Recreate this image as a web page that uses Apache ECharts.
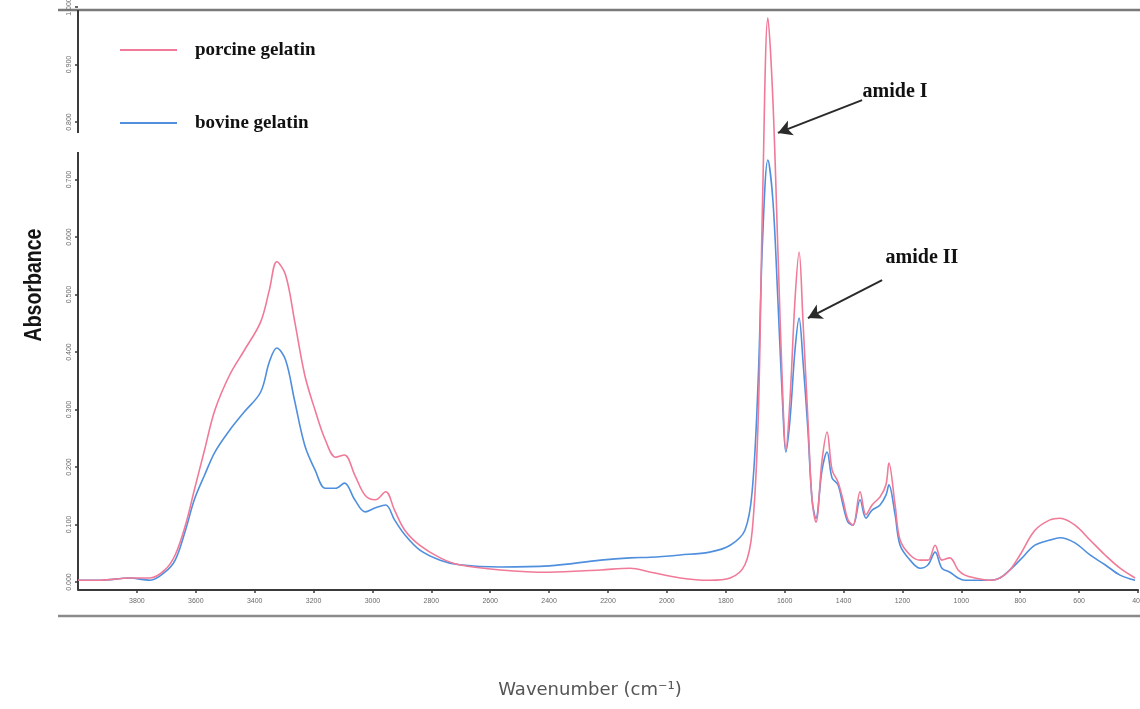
<!DOCTYPE html>
<html>
<head>
<meta charset="utf-8">
<script src="https://cdn.jsdelivr.net/npm/echarts@6/dist/echarts.min.js"></script>
<style>
  html, body { margin: 0; padding: 0; background: #ffffff; overflow: hidden; }
  #chart { width: 1140px; height: 709px; }
</style>
</head>
<body>
<div id="chart"></div>
<script>
// FTIR spectra of gelatin samples: wavenumber (cm-1) vs absorbance
const wavenumber = [4000, 3925, 3825, 3755, 3705, 3670, 3635, 3605, 3570, 3535, 3485, 3435, 3380, 3350, 3325, 3295, 3265, 3230, 3195, 3160, 3125, 3095, 3060, 3025, 2990, 2955, 2925, 2890, 2840, 2770, 2705, 2565, 2400, 2225, 2125, 2055, 1955, 1855, 1785, 1735, 1710, 1690, 1675, 1657, 1640, 1623, 1606, 1596, 1582, 1565, 1551, 1538, 1521, 1507, 1494, 1473, 1456, 1439, 1419, 1402, 1385, 1368, 1344, 1324, 1303, 1276, 1256, 1246, 1225, 1208, 1174, 1140, 1113, 1089, 1066, 1039, 1011, 988, 954, 903, 869, 835, 801, 750, 699, 665, 614, 563, 512, 461, 410];

const porcine = [0.003, 0.003, 0.007, 0.007, 0.021, 0.047, 0.099, 0.160, 0.230, 0.299, 0.360, 0.403, 0.452, 0.508, 0.557, 0.534, 0.456, 0.360, 0.299, 0.247, 0.217, 0.221, 0.186, 0.151, 0.143, 0.157, 0.125, 0.090, 0.064, 0.042, 0.030, 0.021, 0.017, 0.021, 0.024, 0.017, 0.007, 0.003, 0.007, 0.030, 0.090, 0.282, 0.664, 0.981, 0.838, 0.577, 0.317, 0.230, 0.317, 0.490, 0.574, 0.456, 0.282, 0.143, 0.104, 0.212, 0.261, 0.195, 0.174, 0.143, 0.108, 0.099, 0.157, 0.117, 0.134, 0.148, 0.169, 0.207, 0.134, 0.073, 0.047, 0.038, 0.038, 0.064, 0.038, 0.042, 0.021, 0.012, 0.007, 0.003, 0.007, 0.021, 0.047, 0.090, 0.108, 0.111, 0.099, 0.073, 0.047, 0.024, 0.007];

const bovine = [0.003, 0.003, 0.007, 0.003, 0.017, 0.038, 0.090, 0.143, 0.186, 0.226, 0.264, 0.296, 0.330, 0.383, 0.407, 0.386, 0.317, 0.238, 0.195, 0.163, 0.163, 0.172, 0.143, 0.122, 0.129, 0.134, 0.108, 0.082, 0.056, 0.038, 0.030, 0.026, 0.028, 0.038, 0.042, 0.043, 0.047, 0.052, 0.064, 0.090, 0.160, 0.351, 0.595, 0.734, 0.664, 0.490, 0.299, 0.226, 0.282, 0.403, 0.459, 0.386, 0.264, 0.143, 0.111, 0.195, 0.226, 0.181, 0.169, 0.134, 0.104, 0.099, 0.143, 0.111, 0.125, 0.134, 0.151, 0.169, 0.117, 0.064, 0.038, 0.024, 0.030, 0.052, 0.024, 0.017, 0.007, 0.003, 0.003, 0.003, 0.007, 0.021, 0.038, 0.064, 0.073, 0.077, 0.068, 0.047, 0.030, 0.012, 0.003];

const seriesNames = ['porcine gelatin', 'bovine gelatin'];
const seriesColors = ['#f07a98', '#4f8fde'];

// band labels: text anchor and arrow (from -> to) in wavenumber / absorbance units
const bandNames = ['amide I', 'amide II'];
const bandLabelAt = [[1337, 0.852], [1259, 0.563]];
const bandArrowFrom = [[1337, 0.838], [1269, 0.525]];
const bandArrowTo = [[1623, 0.781], [1521, 0.459]];

// the y axis line is drawn in two pieces with a small break
const yBreak = [0.748, 0.781];

const toPairs = (ys) => wavenumber.map((w, i) => [w, ys[i]]);

const chart = echarts.init(document.getElementById('chart'), null, { renderer: 'canvas', width: 1140, height: 709 });

const tickLabelStyle = { color: '#6a6a6a', fontSize: 7, fontFamily: 'Liberation Sans, Arial, sans-serif' };

const option = {
  backgroundColor: '#ffffff',
  animation: false,
  grid: { left: 78, right: 2, top: 7, bottom: 127, containLabel: false, outerBoundsMode: 'none' },
  legend: {
    orient: 'vertical',
    left: 115,
    top: 34,
    icon: 'rect',
    itemWidth: 57,
    itemHeight: 2,
    itemGap: 51,
    data: seriesNames,
    textStyle: {
      fontFamily: 'Liberation Serif, Times New Roman, serif',
      fontWeight: 'bold',
      fontSize: 19,
      color: '#111111',
      lineHeight: 22,
      padding: [0, 0, 0, 13]
    }
  },
  xAxis: {
    type: 'value',
    inverse: true,
    min: 400,
    max: 4000,
    interval: 200,
    offset: 8,
    axisLine: { show: true, onZero: false, lineStyle: { color: '#3a3a3a', width: 2 } },
    axisTick: { show: true, length: 3, lineStyle: { color: '#3a3a3a', width: 1.5 } },
    axisLabel: { ...tickLabelStyle, margin: 8, showMaxLabel: false, showMinLabel: true, formatter: (v) => String(v) },
    splitLine: { show: false }
  },
  yAxis: {
    type: 'value',
    min: 0,
    max: 1,
    interval: 0.1,
    axisLine: { show: false },
    axisTick: { show: true, length: 3, lineStyle: { color: '#3a3a3a', width: 1.5 } },
    axisLabel: { ...tickLabelStyle, rotate: 90, margin: 5, formatter: (v) => v.toFixed(3) },
    splitLine: { show: false }
  },
  series: [
    {
      name: seriesNames[0],
      type: 'line',
      data: toPairs(porcine),
      smooth: 0.35,
      symbol: 'none',
      z: 3,
      lineStyle: { color: seriesColors[0], width: 1.6 },
      itemStyle: { color: seriesColors[0] },
      markLine: {
        silent: true,
        symbol: ['none', 'arrow'],
        symbolSize: [12, 14],
        label: { show: false },
        lineStyle: { color: '#2a2a2a', width: 2, type: 'solid' },
        data: bandNames.map((n, i) => [
          { coord: bandArrowFrom[i] },
          { coord: bandArrowTo[i] }
        ])
      },
      markPoint: {
        silent: true,
        symbol: 'circle',
        symbolSize: 1,
        itemStyle: { color: 'rgba(0,0,0,0)' },
        label: {
          show: true,
          position: 'right',
          distance: 0,
          formatter: (p) => p.name,
          fontFamily: 'Liberation Serif, Times New Roman, serif',
          fontWeight: 'bold',
          fontSize: 20,
          color: '#111111'
        },
        data: bandNames.map((n, i) => ({ name: n, coord: bandLabelAt[i] }))
      }
    },
    {
      name: seriesNames[1],
      type: 'line',
      data: toPairs(bovine),
      smooth: 0.35,
      symbol: 'none',
      z: 2,
      lineStyle: { color: seriesColors[1], width: 1.6 },
      itemStyle: { color: seriesColors[1] }
    }
  ]
};

chart.setOption(option);

// frame, broken y axis line and axis titles
function drawDecor() {
  const x0 = chart.convertToPixel({ xAxisIndex: 0 }, 4000);
  const yBottom = chart.convertToPixel({ yAxisIndex: 0 }, 0) + 8;
  const yTop = chart.convertToPixel({ yAxisIndex: 0 }, 1) + 3;
  const yLow = chart.convertToPixel({ yAxisIndex: 0 }, yBreak[0]);
  const yHigh = chart.convertToPixel({ yAxisIndex: 0 }, yBreak[1]);
  const axisStyle = { stroke: '#3a3a3a', lineWidth: 2 };
  chart.setOption({
    graphic: [
      { id: 'frameTop', type: 'line', shape: { x1: 58, y1: 10, x2: 1140, y2: 10 }, style: { stroke: '#7a7a7a', lineWidth: 2.5 }, silent: true },
      { id: 'frameBottom', type: 'line', shape: { x1: 58, y1: 616, x2: 1140, y2: 616 }, style: { stroke: '#8a8a8a', lineWidth: 2.5 }, silent: true },
      { id: 'yAxisLow', type: 'line', shape: { x1: x0, y1: yBottom, x2: x0, y2: yLow }, style: axisStyle, silent: true },
      { id: 'yAxisHigh', type: 'line', shape: { x1: x0, y1: yHigh, x2: x0, y2: yTop }, style: axisStyle, silent: true },
      {
        id: 'yTitle', type: 'text', x: 35, y: 285, rotation: Math.PI / 2, scaleX: 0.85,
        style: { text: 'Absorbance', font: 'bold 23px "Liberation Sans", Arial, sans-serif', fill: '#141414', textAlign: 'center', textVerticalAlign: 'middle' },
        silent: true
      },
      {
        id: 'xTitle', type: 'text', x: 590, y: 690,
        style: { text: 'Wavenumber (cm\u207B\u00B9)', font: '18px "DejaVu Sans", Verdana, sans-serif', fill: '#555555', textAlign: 'center', textVerticalAlign: 'middle' },
        silent: true
      }
    ]
  });
}
drawDecor();
</script>
</body>
</html>
